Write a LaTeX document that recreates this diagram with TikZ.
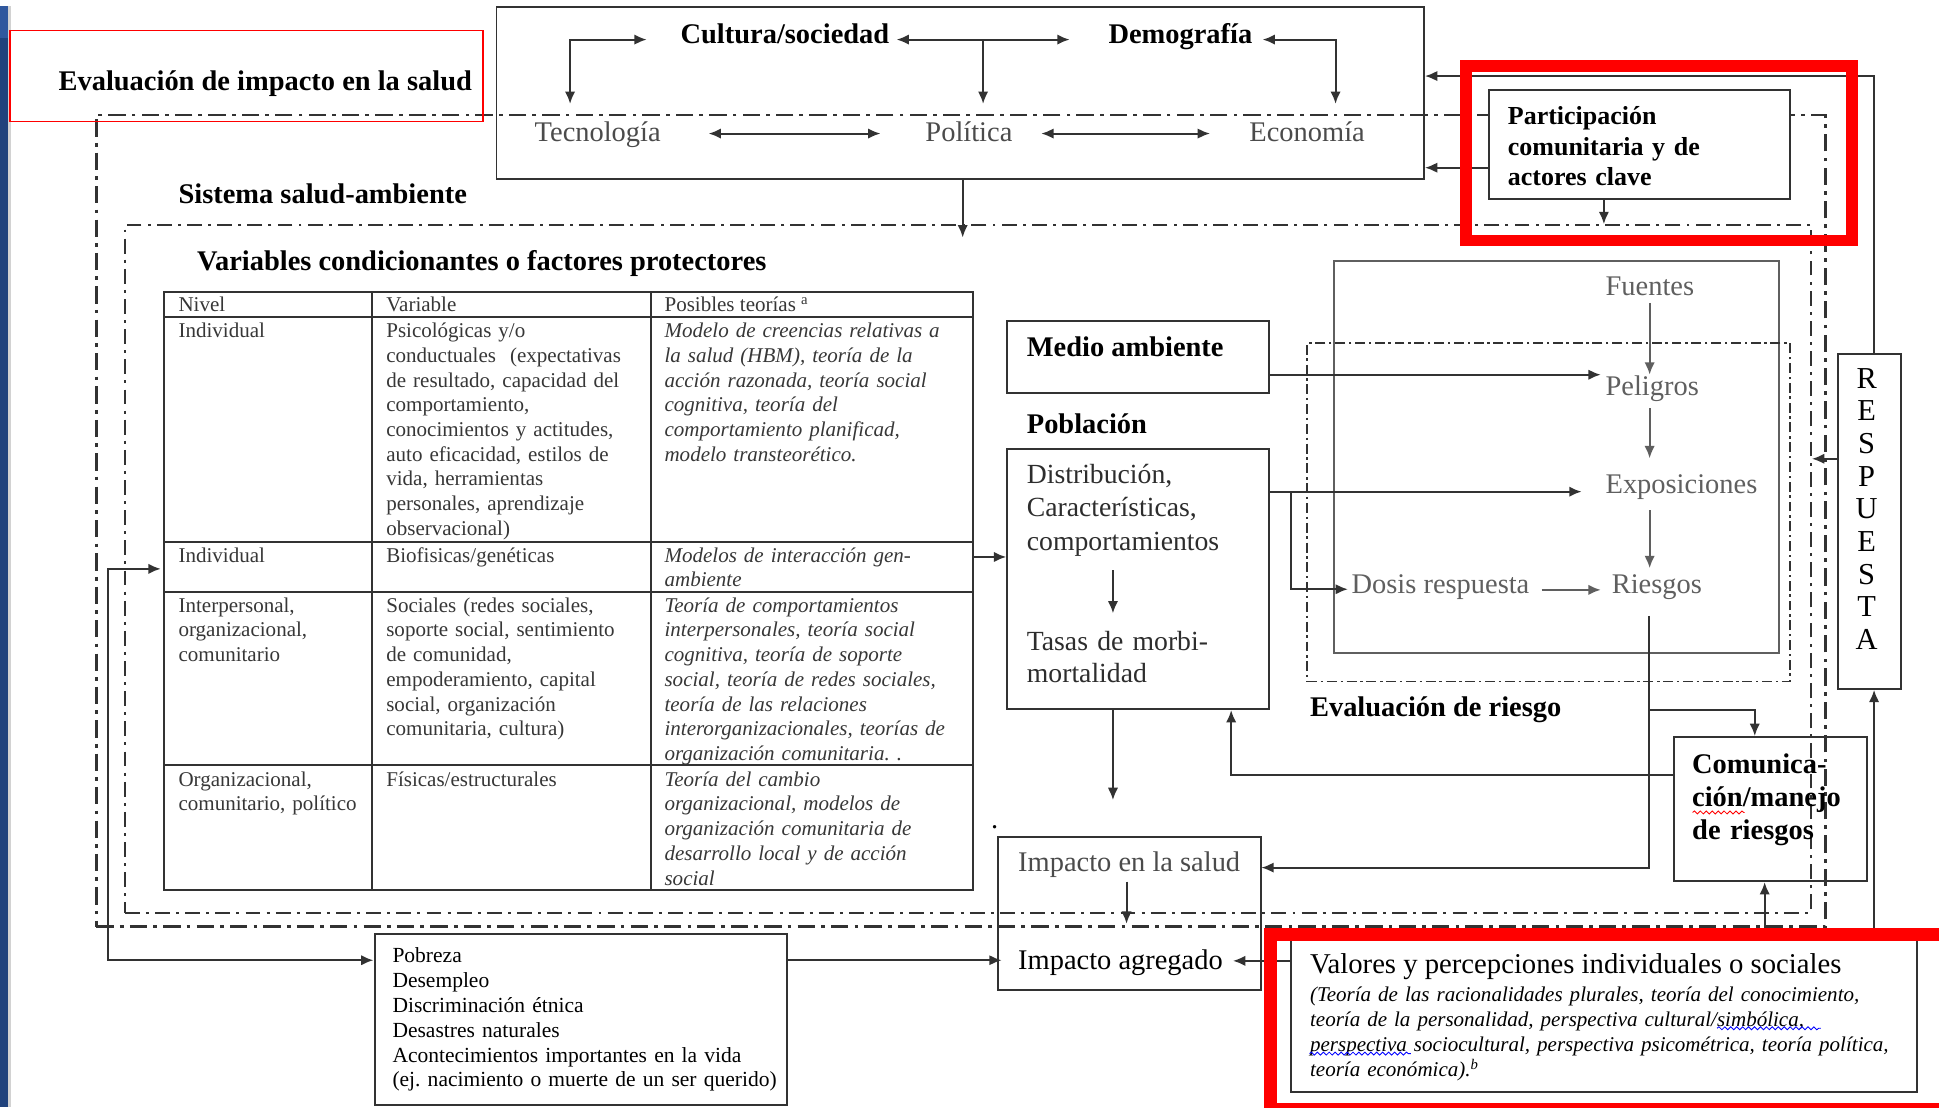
\documentclass[tikz,border=0pt]{standalone}
\usepackage{fontspec}
\setmainfont{Liberation Serif}
\usetikzlibrary{arrows.meta,fit,decorations.pathmorphing}
\definecolor{stripblue}{RGB}{32,66,124}
\definecolor{stripblue2}{RGB}{48,88,158}
\definecolor{txtgrey}{RGB}{75,75,75}
\definecolor{lightgrey}{RGB}{95,95,95}
\definecolor{linegrey}{RGB}{50,50,50}
\definecolor{tabgrey}{RGB}{55,55,55}
\definecolor{popgrey}{RGB}{45,45,45}
\definecolor{redframe}{RGB}{255,0,0}
\tikzset{
  box/.style={draw=linegrey, line width=0.8pt, inner sep=0pt},
  arr/.style={-{Latex[length=5pt,width=4.2pt]}, line width=0.8pt, draw=linegrey},
  dbl/.style={{Latex[length=5pt,width=4.2pt]}-{Latex[length=5pt,width=4.2pt]}, line width=0.8pt, draw=linegrey},
  garr/.style={-{Latex[length=5pt,width=4.2pt]}, line width=0.8pt, draw=lightgrey},
  lbl/.style={anchor=base west, inner sep=0pt},
  mlbl/.style={anchor=base west, inner sep=0pt, text width=#1, align=left},
  fbig/.style={font=\fontsize{11.5}{13.5}\selectfont},
  fbigb/.style={font=\fontsize{11.5}{13.5}\selectfont\bfseries},
  ftab/.style={font=\fontsize{8.5}{10}\selectfont, text=tabgrey},
  ftabi/.style={font=\fontsize{8.5}{10}\selectfont\itshape, text=tabgrey},
  ddA/.style={draw=linegrey, line width=1.1pt, dash pattern=on 7pt off 2.5pt on 1.5pt off 2.5pt},
  ddB/.style={draw=linegrey, line width=0.75pt, dash pattern=on 6pt off 2.5pt on 1.2pt off 2.5pt},
  ddC/.style={draw=linegrey, line width=0.55pt, dash pattern=on 4pt off 1.5pt on 1pt off 1.5pt},
  wavy/.style={line width=0.35pt, decorate, decoration={snake, amplitude=0.6pt, segment length=2.4pt}},
}
\begin{document}
\begin{tikzpicture}[x=0.5pt,y=-0.5pt]
\useasboundingbox (0,0) rectangle (1568,895.2);
\fill[white] (0,0) rectangle (1568,895.2);
% left strip
\fill[stripblue] (0,5) rectangle (6.5,895.2);
\fill[stripblue2] (0,5) rectangle (6.5,31);
\draw[gray!35, line width=0.9pt] (7.6,5) -- (7.6,895.2);

% ---------- frames ----------
\node[ddA, fit={(78,93) (1476,749.5)}, inner sep=0pt] (outer) {};
\node[ddB, fit={(101,182) (1464.5,738)}, inner sep=0pt] (inner) {};

% ---------- title box ----------
\node[draw=redframe, line width=0.5pt, fit={(8,24.5) (390.5,98.5)}, inner sep=0pt] (eisbox) {};
\node[lbl, fbigb] (eis) at (47,73.3) {Evaluación de impacto en la salud};

% ---------- top box ----------
\node[box, fit={(401.5,5.5) (1151.5,145)}] (top) {};
\node[lbl, fbigb] (cult) at (550,35) {Cultura/sociedad};
\node[lbl, fbigb] (demo) at (896,35) {Demografía};
\node[lbl, fbig, text=txtgrey] (tec) at (432,114.5) {Tecnología};
\node[lbl, fbig, text=txtgrey] (pol) at (748,114.5) {Política};
\node[lbl, fbig, text=txtgrey] (eco) at (1010,114.5) {Economía};
\coordinate (tecN) at (461,84);
\coordinate (cultW) at (523,32);
\coordinate (cultE) at (725,32);
\coordinate (demoW) at (865,32);
\coordinate (cdj) at (795,32);
\coordinate (polN) at (795,84);
\coordinate (demoE) at (1021,32);
\coordinate (ecoN) at (1080,84);
\coordinate (tecE) at (573,108);
\coordinate (polW) at (712,108);
\coordinate (polE) at (842,108);
\coordinate (ecoW) at (978.5,108);
\draw[dbl] (tecN) |- (cultW);
\draw[dbl] (cultE) -- (demoW);
\draw[arr] (cdj) -- (polN);
\draw[dbl] (ecoN) |- (demoE);
\draw[dbl] (tecE) -- (polW);
\draw[dbl] (polE) -- (ecoW);

% labels of frames
\node[lbl, fbigb] (sis) at (144,164.5) {Sistema salud-ambiente};
\node[lbl, fbigb] (var) at (159,218.5) {Variables condicionantes o factores protectores};
\draw[arr] (top.south -| 778.5,0) -- (778.5,192);

% ---------- participation ----------
\node[box, fill=white, fit={(1204,73) (1447.5,161)}] (part) {};
\node[mlbl=130pt, font=\fontsize{10.5}{12.25}\selectfont\bfseries] (partt) at (1219,101) {Participación\\comunitaria y de\\actores clave};
\draw[arr] (part.west |- 0,135.6) -- (top.east |- 0,135.6);
\draw[arr] (part.south -| 1297,0) -- (inner.north -| 1297,0);

% ---------- table ----------
\node[box, fit={(133,236) (787,719.7)}] (tab) {};
\draw[draw=linegrey, line width=0.8pt] (133,256.4) -- (787,256.4)
  (133,438) -- (787,438) (133,478.5) -- (787,478.5) (133,618.6) -- (787,618.6)
  (301,236) -- (301,719.7) (526.6,236) -- (526.6,719.7);
\node[lbl, ftab] at (144,251.5) {Nivel};
\node[lbl, ftab] at (312,251.5) {Variable};
\node[lbl, ftab] at (537,251.5) {Posibles teorías \textsuperscript{a}};
\node[lbl, ftab] at (144,273) {Individual};
\node[mlbl=110pt, ftab] at (312,273) {Psicológicas y/o\\conductuales\ \ (expectativas\\de resultado, capacidad del\\comportamiento,\\conocimientos y actitudes,\\auto eficacidad, estilos de\\vida, herramientas\\personales, aprendizaje\\observacional)};
\node[mlbl=130pt, ftabi] at (537,273) {Modelo de creencias relativas a\\la salud (HBM), teoría de la\\acción razonada, teoría social\\cognitiva, teoría del\\comportamiento planificad,\\modelo transteorético.};
\node[lbl, ftab] at (144,454.6) {Individual};
\node[lbl, ftab] at (312,454.6) {Biofisicas/genéticas};
\node[mlbl=130pt, ftabi] at (537,454.6) {Modelos de interacción gen-\\ambiente};
\node[mlbl=90pt, ftab] at (144,495) {Interpersonal,\\organizacional,\\comunitario};
\node[mlbl=110pt, ftab] at (312,495) {Sociales (redes sociales,\\soporte social, sentimiento\\de comunidad,\\empoderamiento, capital\\social, organización\\comunitaria, cultura)};
\node[mlbl=130pt, ftabi] at (537,495) {Teoría de comportamientos\\interpersonales, teoría social\\cognitiva, teoría de soporte\\social, teoría de redes sociales,\\teoría de las relaciones\\interorganizacionales, teorías de\\organización comunitaria.\ .};
\node[mlbl=90pt, ftab] at (144,635.8) {Organizacional,\\comunitario, político};
\node[lbl, ftab] at (312,635.8) {Físicas/estructurales};
\node[mlbl=130pt, ftabi] at (537,635.8) {Teoría del cambio\\organizacional, modelos de\\organización comunitaria de\\desarrollo local y de acción\\social};

% ---------- medio ambiente / poblacion ----------
\node[box, fit={(814.5,259.6) (1026,318)}] (medio) {};
\node[lbl, fbigb] at (830,288.5) {Medio ambiente};
\node[lbl, fbigb] at (830,350.5) {Población};
\node[box, fit={(814.5,363.4) (1026,573.4)}] (pob) {};
\node[mlbl=100pt, font=\fontsize{11.2}{13.5}\selectfont, text=popgrey] (dist) at (830,391) {Distribución,\\Características,\\comportamientos};
\node[mlbl=100pt, font=\fontsize{11.2}{12.75}\selectfont, text=popgrey] (tasas) at (830,526) {Tasas de morbi-\\mortalidad};
\draw[arr] (900,461) -- (900,496);
\draw[arr] (tab.east |- 0,450.4) -- (pob.west |- 0,450.4);

% ---------- risk evaluation ----------
\node[draw=lightgrey, line width=0.75pt, inner sep=0pt, fit={(1079,211) (1438.6,528)}] (fbox) {};
\node[ddC, inner sep=0pt, fit={(1057,277.5) (1447.6,551)}] (evr) {};
\node[lbl, fbigb] at (1059,579.5) {Evaluación de riesgo};
\node[lbl, fbig, text=lightgrey] (fue) at (1298,239) {Fuentes};
\node[lbl, fbig, text=lightgrey] (pel) at (1298,319.5) {Peligros};
\node[lbl, fbig, text=lightgrey] (expo) at (1298,399) {Exposiciones};
\node[lbl, fbig, text=lightgrey] (rie) at (1303,480) {Riesgos};
\node[lbl, fbig, text=lightgrey] (dos) at (1092.6,480) {Dosis respuesta};
\coordinate (fueS) at (1334,245);
\coordinate (pelN) at (1334,303);
\coordinate (pelS) at (1334,330);
\coordinate (expoN) at (1334,370.6);
\coordinate (expoS) at (1334,412.5);
\coordinate (rieN) at (1334,459.5);
\coordinate (dosE) at (1246.6,477);
\coordinate (rieW) at (1294.5,477);
\coordinate (pelW) at (1294.5,303);
\coordinate (expoW) at (1279,397.6);
\coordinate (dosW) at (1090,476.5);
\coordinate (brA) at (1043.7,397.6);
\coordinate (rieS) at (1333.5,498);
\coordinate (brB) at (1333.5,574);
\draw[garr] (fueS) -- (pelN);
\draw[garr] (pelS) -- (expoN);
\draw[garr] (expoS) -- (rieN);
\draw[garr] (dosE) -- (rieW);
\draw[arr] (medio.east |- pelW) -- (pelW);
\draw[arr] (pob.east |- expoW) -- (expoW);
\draw[arr] (brA) |- (dosW);

% ---------- respuesta ----------
\node[box, fit={(1486,286) (1537,557)}] (resp) {};
\node[anchor=base, inner sep=0pt, text width=20pt, align=center, font=\fontsize{12.3}{13.2}\selectfont] (respt) at (1509.5,314) {R\\E\\S\\P\\U\\E\\S\\T\\A};
\draw[arr] (resp.north -| 1515.5,0) |- (top.east |- 0,61.5);
\draw[arr] (resp.west |- 0,371) -- (inner.east |- 0,371);

% ---------- comunicacion ----------
\node[box, fit={(1354,596) (1510,712.5)}] (com) {};
\node[mlbl=80pt, font=\fontsize{11.5}{13.25}\selectfont\bfseries] (comt) at (1368,625.5) {Comunica-\\ción/manejo\\de riesgos};
\draw[wavy, draw=red] (1368.7,657) -- (1410.7,657);
\draw[arr] (brB) -| (com.north -| 1419,0);
\draw[arr] (rieS) |- (1020,701.6);
\draw[arr] (com.west |- 0,627) -| (pob.south -| 995.6,0);

% ---------- impacto ----------
\node[box, fit={(807,677) (1020,800.6)}] (imp) {};
\node[lbl, fbig, text=txtgrey] (imps) at (823,705) {Impacto en la salud};
\node[lbl, fbig] (impa) at (823,784) {Impacto agregado};
\node[lbl, fbig] (dot) at (801,670) {.};
\draw[arr] (pob.south -| 900,0) -- (900,647);
\draw[arr] (911,713) -- (911,747);

% ---------- pobreza ----------
\node[box, fit={(303,755) (636.5,893.7)}] (pobr) {};
\node[mlbl=180pt, font=\fontsize{8.7}{10.1}\selectfont] (pobrt) at (317,778) {Pobreza\\Desempleo\\Discriminación étnica\\Desastres naturales\\Acontecimientos importantes en la vida\\(ej.\ nacimiento o muerte de un ser querido)};
\draw[arr] (pobr.east |- 0,776.5) -- (810,776.5);
\coordinate (tabW) at (130,460);
\coordinate (pobrW) at (302,776.5);
\draw[dbl] (tabW) -- (87.7,460) -- (87.7,776.5) -- (pobrW);

% ---------- valores ----------
\node[draw=linegrey, line width=0.9pt, inner sep=0pt, fit={(1044,760) (1550.4,883)}] (val) {};
\node[lbl, font=\fontsize{11.6}{13}\selectfont] (valt) at (1059,787.5) {Valores y percepciones individuales o sociales};
\node[mlbl=270pt, font=\fontsize{8.5}{10.1}\selectfont\itshape] (vali) at (1059,810) {(Teoría de las racionalidades plurales, teoría del conocimiento,\\teoría de la personalidad, perspectiva cultural/simbólica,\\perspectiva sociocultural, perspectiva psicométrica, teoría política,\\teoría económica).\textsuperscript{b}};
\draw[wavy, draw=blue] (1388.5,831.5) -- (1472.5,831.5);
\draw[wavy, draw=blue] (1059,852) -- (1141,852);
\draw[arr] (val.west |- 0,777) -- (997,777);
\draw[arr] (val.north -| 1515.5,0) -- (resp.south -| 1515.5,0);
\draw[arr] (val.north -| 1427,0) -- (com.south -| 1427,0);

% ---------- red highlight frames ----------
\draw[redframe, line width=4.7pt] (1185.5,53.5) rectangle (1497.5,194.5);
\draw[redframe, line width=5.2pt] (1580,755.6) -- (1027.5,755.6) -- (1027.5,897) -- (1580,897);
\end{tikzpicture}
\end{document}
